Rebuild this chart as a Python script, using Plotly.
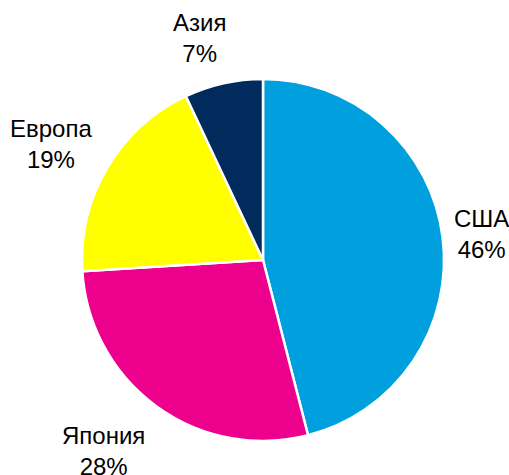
import math
import plotly.graph_objects as go

# ---- data ----
regions = ["США", "Япония", "Европа", "Азия"]
shares = [46, 28, 19, 7]
colors = ["#009FDE", "#EC008C", "#FFFF00", "#002B5C"]

# ---- layout constants (styling) ----
W, H = 509, 475
CX, CY, R = 263, 260, 181          # pie centre / radius in px
label_shift = {                     # px shift of label from slice edge point
    "США": (39, 3),
    "Япония": (-53, -45),
    "Европа": (-56, 24),
    "Азия": (-24, 45),
}
FONT = "Liberation Sans, Arial, sans-serif"

fig = go.Figure(go.Pie(
    labels=regions,
    values=shares,
    sort=False,
    direction="clockwise",
    rotation=0,
    marker=dict(colors=colors, line=dict(color="white", width=2.5)),
    textinfo="none",
    hoverinfo="label+percent",
    showlegend=False,
    domain=dict(x=[(CX - R) / W, (CX + R) / W],
                y=[(H - CY - R) / H, (H - CY + R) / H]),
))

total = sum(shares)
cum = 0
annotations = []
for name, v in zip(regions, shares):
    mid = (cum + v / 2) / total * 2 * math.pi
    cum += v
    ex = CX + R * math.sin(mid)
    ey = CY - R * math.cos(mid)
    dx, dy = label_shift[name]
    annotations.append(dict(
        x=ex / W, y=(H - ey) / H, xref="paper", yref="paper",
        text=f"{name}<br>{round(v / total * 100)}%",
        showarrow=False, xanchor="center", yanchor="middle",
        xshift=dx, yshift=dy,
        font=dict(family=FONT, size=24, color="black"),
    ))

fig.update_layout(
    width=W, height=H,
    margin=dict(l=0, r=0, t=0, b=0),
    paper_bgcolor="white", plot_bgcolor="white",
    annotations=annotations,
)

fig.write_html("out.html")
